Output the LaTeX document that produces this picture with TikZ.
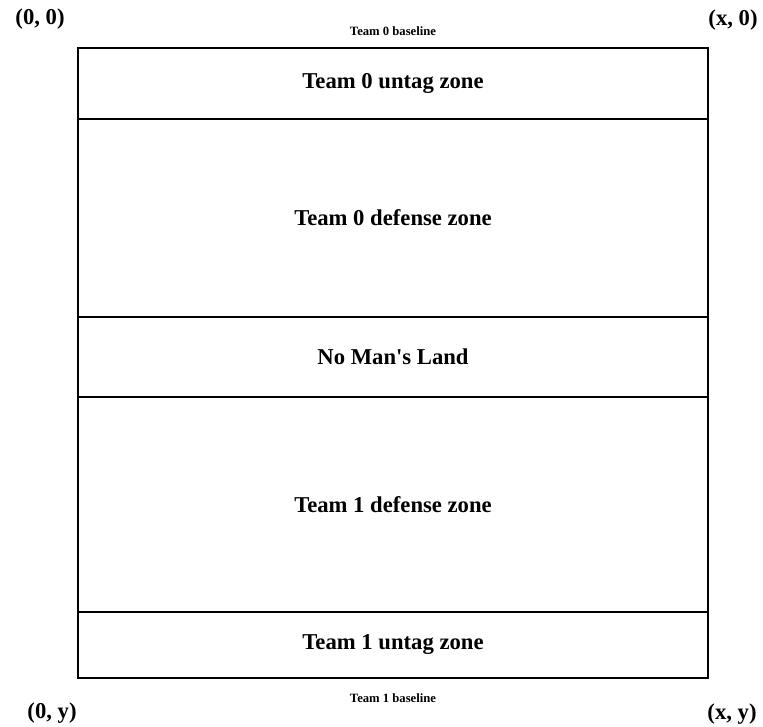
\documentclass[tikz,border=0pt]{standalone}
\usepackage{fontspec}
\setmainfont{Liberation Serif}
\usetikzlibrary{positioning}

\begin{document}
\begin{tikzpicture}[
        x=0.75pt, y=-0.75pt,
        zone/.style={draw, line width=1pt, outer sep=0pt, inner sep=0pt, minimum width=630*0.75pt, font=\fontsize{17}{20}\selectfont\bfseries},
        cornerlabel/.style={font=\fontsize{17}{20}\selectfont\bfseries, inner sep=0pt},
        baselinelabel/.style={font=\fontsize{9.5}{11}\selectfont\bfseries, inner sep=0pt}
    ]
        \useasboundingbox (0,0) rectangle (763,727);

        % Field zones, stacked from top to bottom
        \node[zone, minimum height=71*0.75pt, anchor=north west] (untag0) at (78,48) {Team 0 untag zone};
        \node[zone, minimum height=198*0.75pt, below=0pt of untag0] (defense0) {Team 0 defense zone};
        \node[zone, minimum height=80*0.75pt, below=0pt of defense0] (noman) {No Man\textquotesingle s Land};
        \node[zone, minimum height=215*0.75pt, below=0pt of noman] (defense1) {Team 1 defense zone};
        \node[zone, minimum height=66*0.75pt, below=0pt of defense1] (untag1) {Team 1 untag zone};

        % Baselines
        \node[baselinelabel, above=12*0.75pt of untag0] (base0) {Team 0 baseline};
        \node[baselinelabel, below=15*0.75pt of untag1] (base1) {Team 1 baseline};

        % Corner coordinates
        \node[cornerlabel] (c00) at (40,19) {(0, 0)};
        \node[cornerlabel] (cx0) at (733,20) {(x, 0)};
        \node[cornerlabel] (c0y) at (52,713) {(0, y)};
        \node[cornerlabel] (cxy) at (732,714) {(x, y)};

\end{tikzpicture}
\end{document}
